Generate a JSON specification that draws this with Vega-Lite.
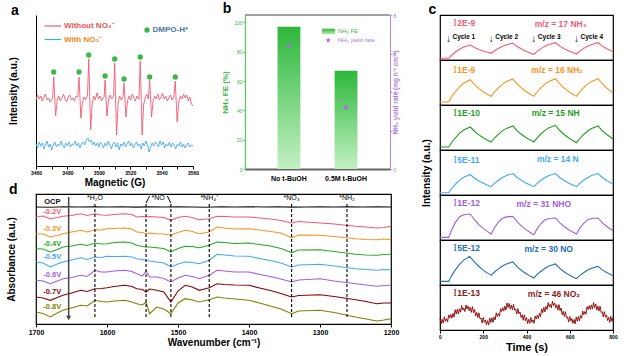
{
"$schema": "https://vega.github.io/schema/vega-lite/v6.json",
"background": "white",
"padding": {"left": 5, "top": 2, "right": 0, "bottom": 0},
"config": {
  "font": "Liberation Sans",
  "view": {"stroke": null},
  "axis": {"grid": false, "domainColor": "black", "tickColor": "black", "labelColor": "black", "titleColor": "black", "domainWidth": 1, "tickWidth": 1, "labelOverlap": false},
  "title": {"fontSize": 14, "fontWeight": "bold", "anchor": "start", "offset": -3, "frame": "bounds", "color": "black"}
},
"datasets": {
  "epr": [
{"G":3460,"I":66,"s":"Without"},{"G":3461,"I":71,"s":"Without"},{"G":3462,"I":67,"s":"Without"},{"G":3463,"I":70,"s":"Without"},{"G":3464,"I":65,"s":"Without"},{"G":3465,"I":69,"s":"Without"},{"G":3466,"I":72,"s":"Without"},{"G":3467,"I":66,"s":"Without"},{"G":3468,"I":68,"s":"Without"},{"G":3469,"I":64,"s":"Without"},{"G":3470,"I":67,"s":"Without"},{"G":3470.6,"I":68,"s":"Without"},{"G":3471.3,"I":89,"s":"Without"},{"G":3472.5,"I":50,"s":"Without"},{"G":3473.5,"I":66,"s":"Without"},{"G":3474.5,"I":70,"s":"Without"},{"G":3475.5,"I":65,"s":"Without"},{"G":3476.5,"I":68,"s":"Without"},{"G":3477.5,"I":72,"s":"Without"},{"G":3478.5,"I":67,"s":"Without"},{"G":3479.5,"I":64,"s":"Without"},{"G":3480.5,"I":69,"s":"Without"},{"G":3481.5,"I":71,"s":"Without"},{"G":3482.5,"I":66,"s":"Without"},{"G":3483.5,"I":68,"s":"Without"},{"G":3484.5,"I":65,"s":"Without"},{"G":3485.5,"I":70,"s":"Without"},{"G":3486.6,"I":69,"s":"Without"},{"G":3487.4,"I":89,"s":"Without"},{"G":3488.6,"I":48,"s":"Without"},{"G":3489.6,"I":64,"s":"Without"},{"G":3490.5,"I":69,"s":"Without"},{"G":3491.5,"I":66,"s":"Without"},{"G":3492.8,"I":71,"s":"Without"},{"G":3493.6,"I":107,"s":"Without"},{"G":3494.8,"I":36,"s":"Without"},{"G":3495.8,"I":63,"s":"Without"},{"G":3496.8,"I":70,"s":"Without"},{"G":3497.8,"I":66,"s":"Without"},{"G":3498.8,"I":73,"s":"Without"},{"G":3499.8,"I":67,"s":"Without"},{"G":3500.8,"I":70,"s":"Without"},{"G":3501.8,"I":65,"s":"Without"},{"G":3502.6,"I":68,"s":"Without"},{"G":3503.4,"I":69,"s":"Without"},{"G":3504,"I":86,"s":"Without"},{"G":3505.2,"I":50,"s":"Without"},{"G":3506.2,"I":66,"s":"Without"},{"G":3507.2,"I":71,"s":"Without"},{"G":3508.2,"I":67,"s":"Without"},{"G":3509.4,"I":70,"s":"Without"},{"G":3510.1,"I":103,"s":"Without"},{"G":3511.3,"I":31,"s":"Without"},{"G":3512.3,"I":63,"s":"Without"},{"G":3513.3,"I":70,"s":"Without"},{"G":3514.3,"I":66,"s":"Without"},{"G":3515.4,"I":69,"s":"Without"},{"G":3516.1,"I":83,"s":"Without"},{"G":3517.3,"I":49,"s":"Without"},{"G":3518.3,"I":65,"s":"Without"},{"G":3519.3,"I":70,"s":"Without"},{"G":3520.3,"I":66,"s":"Without"},{"G":3521.3,"I":72,"s":"Without"},{"G":3522.3,"I":68,"s":"Without"},{"G":3523.3,"I":65,"s":"Without"},{"G":3524.3,"I":70,"s":"Without"},{"G":3525.6,"I":67,"s":"Without"},{"G":3526.4,"I":105,"s":"Without"},{"G":3527.6,"I":31,"s":"Without"},{"G":3528.6,"I":62,"s":"Without"},{"G":3529.6,"I":68,"s":"Without"},{"G":3530.6,"I":72,"s":"Without"},{"G":3531.6,"I":67,"s":"Without"},{"G":3532.4,"I":86,"s":"Without"},{"G":3533.6,"I":49,"s":"Without"},{"G":3534.6,"I":65,"s":"Without"},{"G":3535.6,"I":70,"s":"Without"},{"G":3536.6,"I":67,"s":"Without"},{"G":3537.6,"I":72,"s":"Without"},{"G":3538.6,"I":66,"s":"Without"},{"G":3539.6,"I":69,"s":"Without"},{"G":3540.6,"I":73,"s":"Without"},{"G":3541.6,"I":67,"s":"Without"},{"G":3542.6,"I":70,"s":"Without"},{"G":3543.6,"I":65,"s":"Without"},{"G":3544.6,"I":68,"s":"Without"},{"G":3545.6,"I":71,"s":"Without"},{"G":3546.6,"I":66,"s":"Without"},{"G":3547.8,"I":69,"s":"Without"},{"G":3548.7,"I":85,"s":"Without"},{"G":3549.9,"I":44,"s":"Without"},{"G":3550.9,"I":64,"s":"Without"},{"G":3552,"I":70,"s":"Without"},{"G":3553,"I":67,"s":"Without"},{"G":3554,"I":72,"s":"Without"},{"G":3555,"I":68,"s":"Without"},{"G":3556,"I":71,"s":"Without"},{"G":3557,"I":65,"s":"Without"},{"G":3558,"I":69,"s":"Without"},{"G":3559,"I":62,"s":"Without"},{"G":3560,"I":60,"s":"Without"},
{"G":3460,"I":22,"s":"With"},{"G":3461,"I":18,"s":"With"},{"G":3462,"I":24,"s":"With"},{"G":3463,"I":20,"s":"With"},{"G":3464,"I":23,"s":"With"},{"G":3465,"I":17,"s":"With"},{"G":3466,"I":21,"s":"With"},{"G":3467,"I":25,"s":"With"},{"G":3468,"I":19,"s":"With"},{"G":3469,"I":22,"s":"With"},{"G":3470,"I":16,"s":"With"},{"G":3471,"I":21,"s":"With"},{"G":3472,"I":24,"s":"With"},{"G":3473,"I":19,"s":"With"},{"G":3474,"I":22,"s":"With"},{"G":3475,"I":20,"s":"With"},{"G":3476,"I":25,"s":"With"},{"G":3477,"I":21,"s":"With"},{"G":3478,"I":18,"s":"With"},{"G":3479,"I":23,"s":"With"},{"G":3480,"I":20,"s":"With"},{"G":3481,"I":24,"s":"With"},{"G":3482,"I":19,"s":"With"},{"G":3483,"I":22,"s":"With"},{"G":3484,"I":21,"s":"With"},{"G":3485,"I":25,"s":"With"},{"G":3486,"I":20,"s":"With"},{"G":3487,"I":23,"s":"With"},{"G":3488,"I":18,"s":"With"},{"G":3489,"I":22,"s":"With"},{"G":3490,"I":24,"s":"With"},{"G":3491,"I":21,"s":"With"},{"G":3492,"I":26,"s":"With"},{"G":3493,"I":28,"s":"With"},{"G":3494,"I":24,"s":"With"},{"G":3495,"I":26,"s":"With"},{"G":3496,"I":21,"s":"With"},{"G":3497,"I":24,"s":"With"},{"G":3498,"I":20,"s":"With"},{"G":3499,"I":23,"s":"With"},{"G":3500,"I":19,"s":"With"},{"G":3501,"I":24,"s":"With"},{"G":3502,"I":22,"s":"With"},{"G":3503,"I":18,"s":"With"},{"G":3504,"I":23,"s":"With"},{"G":3505,"I":20,"s":"With"},{"G":3506,"I":25,"s":"With"},{"G":3507,"I":21,"s":"With"},{"G":3508,"I":17,"s":"With"},{"G":3509,"I":22,"s":"With"},{"G":3510,"I":24,"s":"With"},{"G":3511,"I":19,"s":"With"},{"G":3512,"I":23,"s":"With"},{"G":3513,"I":16,"s":"With"},{"G":3514,"I":22,"s":"With"},{"G":3515,"I":20,"s":"With"},{"G":3516,"I":24,"s":"With"},{"G":3517,"I":19,"s":"With"},{"G":3518,"I":22,"s":"With"},{"G":3519,"I":25,"s":"With"},{"G":3520,"I":20,"s":"With"},{"G":3521,"I":23,"s":"With"},{"G":3522,"I":18,"s":"With"},{"G":3523,"I":21,"s":"With"},{"G":3524,"I":24,"s":"With"},{"G":3525,"I":20,"s":"With"},{"G":3526,"I":22,"s":"With"},{"G":3527,"I":17,"s":"With"},{"G":3528,"I":23,"s":"With"},{"G":3529,"I":20,"s":"With"},{"G":3530,"I":25,"s":"With"},{"G":3531,"I":21,"s":"With"},{"G":3532,"I":14,"s":"With"},{"G":3533,"I":19,"s":"With"},{"G":3534,"I":23,"s":"With"},{"G":3535,"I":20,"s":"With"},{"G":3536,"I":24,"s":"With"},{"G":3537,"I":22,"s":"With"},{"G":3538,"I":19,"s":"With"},{"G":3539,"I":25,"s":"With"},{"G":3540,"I":21,"s":"With"},{"G":3541,"I":24,"s":"With"},{"G":3542,"I":18,"s":"With"},{"G":3543,"I":22,"s":"With"},{"G":3544,"I":20,"s":"With"},{"G":3545,"I":24,"s":"With"},{"G":3546,"I":19,"s":"With"},{"G":3547,"I":23,"s":"With"},{"G":3548,"I":21,"s":"With"},{"G":3549,"I":17,"s":"With"},{"G":3550,"I":22,"s":"With"},{"G":3551,"I":20,"s":"With"},{"G":3552,"I":24,"s":"With"},{"G":3553,"I":19,"s":"With"},{"G":3554,"I":22,"s":"With"},{"G":3555,"I":18,"s":"With"},{"G":3556,"I":21,"s":"With"},{"G":3557,"I":23,"s":"With"},{"G":3558,"I":19,"s":"With"},{"G":3559,"I":21,"s":"With"},{"G":3560,"I":20,"s":"With"}
  ],
  "dmpo": [{"G":3471.3,"I":94},{"G":3487.4,"I":94},{"G":3493.6,"I":111},{"G":3504,"I":90},{"G":3510.1,"I":107},{"G":3516.1,"I":87},{"G":3526.4,"I":109},{"G":3532.4,"I":89},{"G":3548.7,"I":89}],
  "ms": [
{"m":17,"t":0,"v":1.7},{"m":17,"t":20,"v":1.8},{"m":17,"t":40,"v":1.7},{"m":17,"t":55,"v":5.0},{"m":17,"t":70,"v":7.7},{"m":17,"t":90,"v":10.7},{"m":17,"t":110,"v":13.0},{"m":17,"t":140,"v":15.0},{"m":17,"t":160,"v":12.5},{"m":17,"t":180,"v":10.6},{"m":17,"t":200,"v":9.0},{"m":17,"t":220,"v":7.7},{"m":17,"t":237,"v":6.7},{"m":17,"t":252,"v":9.2},{"m":17,"t":267,"v":11.2},{"m":17,"t":287,"v":13.5},{"m":17,"t":307,"v":15.2},{"m":17,"t":337,"v":16.7},{"m":17,"t":357,"v":13.4},{"m":17,"t":377,"v":10.9},{"m":17,"t":397,"v":8.8},{"m":17,"t":417,"v":7.0},{"m":17,"t":434,"v":5.7},{"m":17,"t":449,"v":8.6},{"m":17,"t":464,"v":10.9},{"m":17,"t":484,"v":13.6},{"m":17,"t":504,"v":15.6},{"m":17,"t":534,"v":17.3},{"m":17,"t":554,"v":13.9},{"m":17,"t":574,"v":11.3},{"m":17,"t":594,"v":9.2},{"m":17,"t":614,"v":7.4},{"m":17,"t":631,"v":6.0},{"m":17,"t":646,"v":8.8},{"m":17,"t":661,"v":11.1},{"m":17,"t":681,"v":13.7},{"m":17,"t":701,"v":15.6},{"m":17,"t":731,"v":17.3},{"m":17,"t":751,"v":13.9},{"m":17,"t":771,"v":11.3},{"m":17,"t":791,"v":9.2},{"m":17,"t":800,"v":8.4},
{"m":16,"t":0,"v":3},{"m":16,"t":20,"v":3},{"m":16,"t":40,"v":3},{"m":16,"t":55,"v":8.6},{"m":16,"t":70,"v":13.0},{"m":16,"t":90,"v":18.2},{"m":16,"t":110,"v":22.0},{"m":16,"t":140,"v":25.3},{"m":16,"t":160,"v":20.3},{"m":16,"t":180,"v":16.4},{"m":16,"t":200,"v":13.3},{"m":16,"t":220,"v":10.6},{"m":16,"t":237,"v":8.6},{"m":16,"t":252,"v":13.0},{"m":16,"t":267,"v":16.4},{"m":16,"t":287,"v":20.4},{"m":16,"t":307,"v":23.4},{"m":16,"t":337,"v":26.0},{"m":16,"t":357,"v":20.8},{"m":16,"t":377,"v":16.8},{"m":16,"t":397,"v":13.5},{"m":16,"t":417,"v":10.7},{"m":16,"t":434,"v":8.6},{"m":16,"t":449,"v":13.0},{"m":16,"t":464,"v":16.6},{"m":16,"t":484,"v":20.6},{"m":16,"t":504,"v":23.6},{"m":16,"t":534,"v":26.3},{"m":16,"t":554,"v":21.0},{"m":16,"t":574,"v":16.9},{"m":16,"t":594,"v":13.6},{"m":16,"t":614,"v":10.7},{"m":16,"t":631,"v":8.6},{"m":16,"t":646,"v":13.0},{"m":16,"t":661,"v":16.6},{"m":16,"t":681,"v":20.6},{"m":16,"t":701,"v":23.6},{"m":16,"t":731,"v":26.3},{"m":16,"t":751,"v":21.0},{"m":16,"t":771,"v":16.9},{"m":16,"t":791,"v":13.6},{"m":16,"t":800,"v":12.3},
{"m":15,"t":0,"v":3},{"m":15,"t":20,"v":3},{"m":15,"t":40,"v":3},{"m":15,"t":55,"v":8},{"m":15,"t":70,"v":12},{"m":15,"t":90,"v":16.6},{"m":15,"t":110,"v":20},{"m":15,"t":140,"v":23},{"m":15,"t":160,"v":18.5},{"m":15,"t":180,"v":15.1},{"m":15,"t":200,"v":12.2},{"m":15,"t":220,"v":9.8},{"m":15,"t":237,"v":8},{"m":15,"t":252,"v":12},{"m":15,"t":267,"v":15.2},{"m":15,"t":287,"v":18.9},{"m":15,"t":307,"v":21.6},{"m":15,"t":337,"v":24},{"m":15,"t":357,"v":19.2},{"m":15,"t":377,"v":15.5},{"m":15,"t":397,"v":12.5},{"m":15,"t":417,"v":9.9},{"m":15,"t":434,"v":8},{"m":15,"t":449,"v":12.2},{"m":15,"t":464,"v":15.5},{"m":15,"t":484,"v":19.4},{"m":15,"t":504,"v":22.2},{"m":15,"t":534,"v":24.7},{"m":15,"t":554,"v":19.5},{"m":15,"t":574,"v":15.5},{"m":15,"t":594,"v":12.2},{"m":15,"t":614,"v":9.4},{"m":15,"t":631,"v":7.3},{"m":15,"t":646,"v":11.5},{"m":15,"t":661,"v":14.8},{"m":15,"t":681,"v":18.7},{"m":15,"t":701,"v":21.5},{"m":15,"t":731,"v":24},{"m":15,"t":751,"v":19.2},{"m":15,"t":771,"v":15.5},{"m":15,"t":791,"v":12.5},{"m":15,"t":800,"v":11},
{"m":14,"t":0,"v":2.3},{"m":14,"t":20,"v":2.3},{"m":14,"t":40,"v":2.3},{"m":14,"t":55,"v":6.9},{"m":14,"t":70,"v":10.5},{"m":14,"t":90,"v":14.7},{"m":14,"t":110,"v":17.8},{"m":14,"t":140,"v":20.5},{"m":14,"t":160,"v":16.8},{"m":14,"t":180,"v":14.0},{"m":14,"t":200,"v":11.7},{"m":14,"t":220,"v":9.8},{"m":14,"t":237,"v":8.3},{"m":14,"t":252,"v":11.6},{"m":14,"t":267,"v":14.2},{"m":14,"t":287,"v":17.3},{"m":14,"t":307,"v":19.5},{"m":14,"t":337,"v":21.5},{"m":14,"t":357,"v":17.5},{"m":14,"t":377,"v":14.5},{"m":14,"t":397,"v":12.0},{"m":14,"t":417,"v":9.9},{"m":14,"t":434,"v":8.3},{"m":14,"t":449,"v":11.6},{"m":14,"t":464,"v":14.2},{"m":14,"t":484,"v":17.3},{"m":14,"t":504,"v":19.5},{"m":14,"t":534,"v":21.5},{"m":14,"t":554,"v":17.5},{"m":14,"t":574,"v":14.5},{"m":14,"t":594,"v":12.0},{"m":14,"t":614,"v":9.9},{"m":14,"t":631,"v":8.3},{"m":14,"t":646,"v":11.6},{"m":14,"t":661,"v":14.2},{"m":14,"t":681,"v":17.3},{"m":14,"t":701,"v":19.5},{"m":14,"t":731,"v":21.5},{"m":14,"t":751,"v":17.5},{"m":14,"t":771,"v":14.5},{"m":14,"t":791,"v":12.0},{"m":14,"t":800,"v":11.0},
{"m":31,"t":0,"v":2.6},{"m":31,"t":20,"v":2.6},{"m":31,"t":40,"v":2.6},{"m":31,"t":55,"v":10.8},{"m":31,"t":70,"v":17.1},{"m":31,"t":90,"v":23.2},{"m":31,"t":110,"v":25.3},{"m":31,"t":140,"v":26},{"m":31,"t":160,"v":20},{"m":31,"t":180,"v":15.4},{"m":31,"t":200,"v":11.6},{"m":31,"t":220,"v":8.4},{"m":31,"t":237,"v":6},{"m":31,"t":252,"v":12.2},{"m":31,"t":267,"v":16.9},{"m":31,"t":287,"v":21.5},{"m":31,"t":307,"v":23.1},{"m":31,"t":337,"v":23.6},{"m":31,"t":357,"v":18.1},{"m":31,"t":377,"v":13.9},{"m":31,"t":397,"v":10.4},{"m":31,"t":417,"v":7.5},{"m":31,"t":434,"v":5.3},{"m":31,"t":449,"v":11.1},{"m":31,"t":464,"v":15.7},{"m":31,"t":484,"v":20},{"m":31,"t":504,"v":21.5},{"m":31,"t":534,"v":22},{"m":31,"t":554,"v":17.2},{"m":31,"t":574,"v":13.5},{"m":31,"t":594,"v":10.5},{"m":31,"t":614,"v":7.9},{"m":31,"t":631,"v":6},{"m":31,"t":646,"v":11.6},{"m":31,"t":661,"v":15.9},{"m":31,"t":681,"v":20.1},{"m":31,"t":701,"v":21.5},{"m":31,"t":731,"v":22},{"m":31,"t":751,"v":17.2},{"m":31,"t":771,"v":13.5},{"m":31,"t":791,"v":10.5},{"m":31,"t":800,"v":9.4},
{"m":30,"t":0,"v":3.6},{"m":30,"t":20,"v":3.6},{"m":30,"t":40,"v":3.6},{"m":30,"t":55,"v":9.9},{"m":30,"t":70,"v":14.9},{"m":30,"t":90,"v":20.6},{"m":30,"t":110,"v":24.9},{"m":30,"t":137,"v":28.6},{"m":30,"t":160,"v":22.9},{"m":30,"t":180,"v":18.5},{"m":30,"t":200,"v":14.9},{"m":30,"t":220,"v":11.9},{"m":30,"t":237,"v":9.6},{"m":30,"t":252,"v":13},{"m":30,"t":267,"v":15.6},{"m":30,"t":287,"v":18.7},{"m":30,"t":307,"v":21},{"m":30,"t":337,"v":23},{"m":30,"t":357,"v":18.2},{"m":30,"t":377,"v":14.5},{"m":30,"t":397,"v":11.5},{"m":30,"t":417,"v":8.9},{"m":30,"t":434,"v":7},{"m":30,"t":449,"v":10.5},{"m":30,"t":464,"v":13.3},{"m":30,"t":484,"v":16.5},{"m":30,"t":504,"v":18.9},{"m":30,"t":534,"v":21},{"m":30,"t":554,"v":16.6},{"m":30,"t":574,"v":13.2},{"m":30,"t":594,"v":10.4},{"m":30,"t":614,"v":8.1},{"m":30,"t":631,"v":6.3},{"m":30,"t":646,"v":9.4},{"m":30,"t":661,"v":11.8},{"m":30,"t":681,"v":14.7},{"m":30,"t":701,"v":16.8},{"m":30,"t":731,"v":18.6},{"m":30,"t":751,"v":15.1},{"m":30,"t":771,"v":12.5},{"m":30,"t":791,"v":10.2},{"m":30,"t":800,"v":9.2},
{"m":46,"t":0,"v":11.5},{"m":46,"t":5,"v":6.0},{"m":46,"t":10,"v":10.7},{"m":46,"t":15,"v":7.0},{"m":46,"t":20,"v":13.3},{"m":46,"t":25,"v":8.8},{"m":46,"t":30,"v":11.3},{"m":46,"t":35,"v":7.9},{"m":46,"t":40,"v":15.1},{"m":46,"t":45,"v":11.8},{"m":46,"t":50,"v":15.6},{"m":46,"t":55,"v":11.8},{"m":46,"t":60,"v":16.6},{"m":46,"t":65,"v":12.9},{"m":46,"t":70,"v":20.3},{"m":46,"t":75,"v":16.0},{"m":46,"t":80,"v":20.8},{"m":46,"t":85,"v":16.0},{"m":46,"t":90,"v":21.2},{"m":46,"t":95,"v":17.8},{"m":46,"t":100,"v":24.4},{"m":46,"t":105,"v":19.8},{"m":46,"t":110,"v":22.1},{"m":46,"t":115,"v":18.4},{"m":46,"t":120,"v":25.0},{"m":46,"t":125,"v":21.0},{"m":46,"t":130,"v":23.9},{"m":46,"t":135,"v":19.1},{"m":46,"t":140,"v":22.7},{"m":46,"t":145,"v":17.6},{"m":46,"t":150,"v":23.4},{"m":46,"t":155,"v":17.5},{"m":46,"t":160,"v":20.6},{"m":46,"t":165,"v":14.1},{"m":46,"t":170,"v":17.5},{"m":46,"t":175,"v":12.4},{"m":46,"t":180,"v":17.2},{"m":46,"t":185,"v":11.1},{"m":46,"t":190,"v":12.0},{"m":46,"t":195,"v":6.9},{"m":46,"t":200,"v":12.5},{"m":46,"t":205,"v":7.7},{"m":46,"t":210,"v":10.1},{"m":46,"t":215,"v":5.2},{"m":46,"t":220,"v":9.3},{"m":46,"t":225,"v":5.0},{"m":46,"t":230,"v":11.9},{"m":46,"t":235,"v":7.5},{"m":46,"t":240,"v":12.3},{"m":46,"t":245,"v":7.6},{"m":46,"t":250,"v":13.1},{"m":46,"t":255,"v":10.1},{"m":46,"t":260,"v":17.2},{"m":46,"t":265,"v":13.4},{"m":46,"t":270,"v":16.5},{"m":46,"t":275,"v":13.7},{"m":46,"t":280,"v":21.3},{"m":46,"t":285,"v":18.4},{"m":46,"t":290,"v":22.4},{"m":46,"t":295,"v":18.9},{"m":46,"t":300,"v":23.8},{"m":46,"t":305,"v":20.0},{"m":46,"t":310,"v":27.1},{"m":46,"t":315,"v":22.5},{"m":46,"t":320,"v":26.5},{"m":46,"t":325,"v":20.8},{"m":46,"t":330,"v":24.9},{"m":46,"t":335,"v":20.4},{"m":46,"t":340,"v":25.7},{"m":46,"t":345,"v":19.9},{"m":46,"t":350,"v":21.0},{"m":46,"t":355,"v":16.0},{"m":46,"t":360,"v":21.4},{"m":46,"t":365,"v":16.3},{"m":46,"t":370,"v":18.1},{"m":46,"t":375,"v":12.5},{"m":46,"t":380,"v":15.3},{"m":46,"t":385,"v":9.7},{"m":46,"t":390,"v":15.2},{"m":46,"t":395,"v":9.3},{"m":46,"t":400,"v":12.5},{"m":46,"t":405,"v":6.5},{"m":46,"t":410,"v":10.7},{"m":46,"t":415,"v":6.5},{"m":46,"t":420,"v":12.5},{"m":46,"t":425,"v":7.7},{"m":46,"t":430,"v":10.1},{"m":46,"t":435,"v":6.7},{"m":46,"t":440,"v":14.0},{"m":46,"t":445,"v":10.9},{"m":46,"t":450,"v":14.9},{"m":46,"t":455,"v":11.5},{"m":46,"t":460,"v":16.7},{"m":46,"t":465,"v":13.4},{"m":46,"t":470,"v":21.1},{"m":46,"t":475,"v":17.3},{"m":46,"t":480,"v":22.5},{"m":46,"t":485,"v":18.1},{"m":46,"t":490,"v":23.6},{"m":46,"t":495,"v":20.6},{"m":46,"t":500,"v":27.4},{"m":46,"t":505,"v":23.1},{"m":46,"t":510,"v":25.7},{"m":46,"t":515,"v":22.1},{"m":46,"t":520,"v":28.7},{"m":46,"t":525,"v":24.5},{"m":46,"t":530,"v":27.1},{"m":46,"t":535,"v":22.0},{"m":46,"t":540,"v":25.3},{"m":46,"t":545,"v":19.9},{"m":46,"t":550,"v":25.4},{"m":46,"t":555,"v":19.3},{"m":46,"t":560,"v":22.1},{"m":46,"t":565,"v":15.4},{"m":46,"t":570,"v":18.7},{"m":46,"t":575,"v":13.5},{"m":46,"t":580,"v":18.3},{"m":46,"t":585,"v":12.1},{"m":46,"t":590,"v":13.0},{"m":46,"t":595,"v":8.0},{"m":46,"t":600,"v":13.6},{"m":46,"t":605,"v":8.9},{"m":46,"t":610,"v":11.4},{"m":46,"t":615,"v":6.6},{"m":46,"t":620,"v":10.5},{"m":46,"t":625,"v":6.2},{"m":46,"t":630,"v":13.1},{"m":46,"t":635,"v":8.7},{"m":46,"t":640,"v":13.5},{"m":46,"t":645,"v":9.0},{"m":46,"t":650,"v":14.6},{"m":46,"t":655,"v":11.8},{"m":46,"t":660,"v":19.0},{"m":46,"t":665,"v":15.3},{"m":46,"t":670,"v":18.5},{"m":46,"t":675,"v":15.8},{"m":46,"t":680,"v":23.4},{"m":46,"t":685,"v":20.5},{"m":46,"t":690,"v":24.4},{"m":46,"t":695,"v":20.6},{"m":46,"t":700,"v":25.1},{"m":46,"t":705,"v":20.9},{"m":46,"t":710,"v":27.5},{"m":46,"t":715,"v":22.4},{"m":46,"t":720,"v":26.1},{"m":46,"t":725,"v":20.0},{"m":46,"t":730,"v":23.8},{"m":46,"t":735,"v":18.9},{"m":46,"t":740,"v":23.8},{"m":46,"t":745,"v":17.6},{"m":46,"t":750,"v":18.3},{"m":46,"t":755,"v":13.1},{"m":46,"t":760,"v":18.3},{"m":46,"t":765,"v":13.1},{"m":46,"t":770,"v":15.0},{"m":46,"t":775,"v":9.5},{"m":46,"t":780,"v":12.7},{"m":46,"t":785,"v":7.6},{"m":46,"t":790,"v":13.7},{"m":46,"t":795,"v":8.5},{"m":46,"t":800,"v":12.5}
  ],
  "ftir": [
{"V":"OCP","w":1700,"A":117},{"V":"OCP","w":1680,"A":116.8},{"V":"OCP","w":1660,"A":117.2},{"V":"OCP","w":1640,"A":117},{"V":"OCP","w":1620,"A":117.3},{"V":"OCP","w":1600,"A":117},{"V":"OCP","w":1580,"A":117.2},{"V":"OCP","w":1560,"A":116.9},{"V":"OCP","w":1540,"A":117.1},{"V":"OCP","w":1520,"A":117},{"V":"OCP","w":1500,"A":117.3},{"V":"OCP","w":1480,"A":117},{"V":"OCP","w":1460,"A":116.8},{"V":"OCP","w":1440,"A":117.2},{"V":"OCP","w":1420,"A":117},{"V":"OCP","w":1400,"A":117.3},{"V":"OCP","w":1380,"A":117},{"V":"OCP","w":1360,"A":117.2},{"V":"OCP","w":1340,"A":116.9},{"V":"OCP","w":1320,"A":117},{"V":"OCP","w":1300,"A":117.2},{"V":"OCP","w":1280,"A":117},{"V":"OCP","w":1260,"A":117.1},{"V":"OCP","w":1240,"A":117},{"V":"OCP","w":1220,"A":117.2},{"V":"OCP","w":1200,"A":117},
{"V":"-0.2V","w":1700,"A":107},{"V":"-0.2V","w":1690,"A":108},{"V":"-0.2V","w":1680,"A":105.3},{"V":"-0.2V","w":1670,"A":106.5},{"V":"-0.2V","w":1662,"A":107.7},{"V":"-0.2V","w":1650,"A":108.5},{"V":"-0.2V","w":1637,"A":110.3},{"V":"-0.2V","w":1628,"A":108.5},{"V":"-0.2V","w":1617,"A":110.3},{"V":"-0.2V","w":1608,"A":109},{"V":"-0.2V","w":1600,"A":108.7},{"V":"-0.2V","w":1590,"A":109.5},{"V":"-0.2V","w":1575,"A":110.3},{"V":"-0.2V","w":1565,"A":109.5},{"V":"-0.2V","w":1558,"A":107},{"V":"-0.2V","w":1550,"A":107.5},{"V":"-0.2V","w":1545,"A":107},{"V":"-0.2V","w":1540,"A":107.5},{"V":"-0.2V","w":1530,"A":107},{"V":"-0.2V","w":1520,"A":106.5},{"V":"-0.2V","w":1510,"A":103.7},{"V":"-0.2V","w":1500,"A":106.5},{"V":"-0.2V","w":1490,"A":107.7},{"V":"-0.2V","w":1480,"A":106.5},{"V":"-0.2V","w":1470,"A":104.3},{"V":"-0.2V","w":1456,"A":105.3},{"V":"-0.2V","w":1445,"A":107.7},{"V":"-0.2V","w":1435,"A":107.5},{"V":"-0.2V","w":1420,"A":107},{"V":"-0.2V","w":1400,"A":107},{"V":"-0.2V","w":1385,"A":106},{"V":"-0.2V","w":1370,"A":105},{"V":"-0.2V","w":1355,"A":103.5},{"V":"-0.2V","w":1340,"A":101},{"V":"-0.2V","w":1330,"A":102.5},{"V":"-0.2V","w":1300,"A":101},{"V":"-0.2V","w":1280,"A":100},{"V":"-0.2V","w":1250,"A":97.7},{"V":"-0.2V","w":1235,"A":97},{"V":"-0.2V","w":1220,"A":96},{"V":"-0.2V","w":1210,"A":96.5},{"V":"-0.2V","w":1200,"A":97.7},
{"V":"-0.3V","w":1700,"A":90.3},{"V":"-0.3V","w":1690,"A":90},{"V":"-0.3V","w":1680,"A":87},{"V":"-0.3V","w":1670,"A":88.5},{"V":"-0.3V","w":1662,"A":90.3},{"V":"-0.3V","w":1650,"A":92},{"V":"-0.3V","w":1637,"A":93.7},{"V":"-0.3V","w":1628,"A":92},{"V":"-0.3V","w":1617,"A":94.3},{"V":"-0.3V","w":1608,"A":94},{"V":"-0.3V","w":1600,"A":95.3},{"V":"-0.3V","w":1590,"A":95.5},{"V":"-0.3V","w":1575,"A":96},{"V":"-0.3V","w":1565,"A":95},{"V":"-0.3V","w":1558,"A":92},{"V":"-0.3V","w":1550,"A":91.5},{"V":"-0.3V","w":1545,"A":90.3},{"V":"-0.3V","w":1540,"A":91},{"V":"-0.3V","w":1530,"A":90.3},{"V":"-0.3V","w":1520,"A":90},{"V":"-0.3V","w":1510,"A":88.7},{"V":"-0.3V","w":1500,"A":91.5},{"V":"-0.3V","w":1490,"A":93.7},{"V":"-0.3V","w":1480,"A":92.5},{"V":"-0.3V","w":1470,"A":90.3},{"V":"-0.3V","w":1456,"A":92},{"V":"-0.3V","w":1445,"A":97},{"V":"-0.3V","w":1435,"A":96},{"V":"-0.3V","w":1420,"A":95},{"V":"-0.3V","w":1400,"A":95.3},{"V":"-0.3V","w":1385,"A":94},{"V":"-0.3V","w":1370,"A":92.5},{"V":"-0.3V","w":1355,"A":91},{"V":"-0.3V","w":1340,"A":86.3},{"V":"-0.3V","w":1330,"A":89},{"V":"-0.3V","w":1300,"A":88.7},{"V":"-0.3V","w":1280,"A":87.5},{"V":"-0.3V","w":1250,"A":85.3},{"V":"-0.3V","w":1235,"A":84.5},{"V":"-0.3V","w":1220,"A":84.3},{"V":"-0.3V","w":1210,"A":85},{"V":"-0.3V","w":1200,"A":84.3},
{"V":"-0.4V","w":1700,"A":75.3},{"V":"-0.4V","w":1690,"A":75},{"V":"-0.4V","w":1680,"A":72},{"V":"-0.4V","w":1670,"A":74.5},{"V":"-0.4V","w":1662,"A":77},{"V":"-0.4V","w":1650,"A":78},{"V":"-0.4V","w":1637,"A":79.7},{"V":"-0.4V","w":1628,"A":78.5},{"V":"-0.4V","w":1617,"A":81},{"V":"-0.4V","w":1608,"A":80},{"V":"-0.4V","w":1600,"A":80.3},{"V":"-0.4V","w":1590,"A":81.5},{"V":"-0.4V","w":1575,"A":82},{"V":"-0.4V","w":1565,"A":81},{"V":"-0.4V","w":1558,"A":78.7},{"V":"-0.4V","w":1550,"A":77.5},{"V":"-0.4V","w":1545,"A":77},{"V":"-0.4V","w":1540,"A":77},{"V":"-0.4V","w":1530,"A":76.3},{"V":"-0.4V","w":1520,"A":75.5},{"V":"-0.4V","w":1510,"A":72},{"V":"-0.4V","w":1500,"A":75.5},{"V":"-0.4V","w":1490,"A":77.7},{"V":"-0.4V","w":1480,"A":77.5},{"V":"-0.4V","w":1470,"A":76.3},{"V":"-0.4V","w":1456,"A":78.7},{"V":"-0.4V","w":1445,"A":82},{"V":"-0.4V","w":1435,"A":81.5},{"V":"-0.4V","w":1420,"A":80.5},{"V":"-0.4V","w":1400,"A":81},{"V":"-0.4V","w":1385,"A":79.5},{"V":"-0.4V","w":1370,"A":78},{"V":"-0.4V","w":1355,"A":75.5},{"V":"-0.4V","w":1340,"A":71.3},{"V":"-0.4V","w":1330,"A":74},{"V":"-0.4V","w":1300,"A":74.3},{"V":"-0.4V","w":1280,"A":72.5},{"V":"-0.4V","w":1250,"A":69.7},{"V":"-0.4V","w":1235,"A":69},{"V":"-0.4V","w":1220,"A":68.7},{"V":"-0.4V","w":1210,"A":69.5},{"V":"-0.4V","w":1200,"A":69.7},
{"V":"-0.5V","w":1700,"A":62},{"V":"-0.5V","w":1690,"A":61},{"V":"-0.5V","w":1680,"A":57},{"V":"-0.5V","w":1670,"A":60},{"V":"-0.5V","w":1662,"A":62},{"V":"-0.5V","w":1650,"A":64},{"V":"-0.5V","w":1637,"A":66.3},{"V":"-0.5V","w":1628,"A":64.5},{"V":"-0.5V","w":1617,"A":67},{"V":"-0.5V","w":1608,"A":66.5},{"V":"-0.5V","w":1600,"A":67.7},{"V":"-0.5V","w":1590,"A":67.5},{"V":"-0.5V","w":1575,"A":67.7},{"V":"-0.5V","w":1565,"A":67},{"V":"-0.5V","w":1558,"A":65.3},{"V":"-0.5V","w":1550,"A":64.5},{"V":"-0.5V","w":1545,"A":63.7},{"V":"-0.5V","w":1540,"A":63},{"V":"-0.5V","w":1530,"A":62},{"V":"-0.5V","w":1520,"A":61},{"V":"-0.5V","w":1510,"A":57},{"V":"-0.5V","w":1500,"A":60},{"V":"-0.5V","w":1490,"A":62},{"V":"-0.5V","w":1480,"A":61.5},{"V":"-0.5V","w":1470,"A":60.3},{"V":"-0.5V","w":1456,"A":63.7},{"V":"-0.5V","w":1445,"A":69.7},{"V":"-0.5V","w":1435,"A":69},{"V":"-0.5V","w":1420,"A":68},{"V":"-0.5V","w":1400,"A":67.7},{"V":"-0.5V","w":1385,"A":65.5},{"V":"-0.5V","w":1370,"A":63.5},{"V":"-0.5V","w":1355,"A":61},{"V":"-0.5V","w":1340,"A":57},{"V":"-0.5V","w":1330,"A":59},{"V":"-0.5V","w":1300,"A":59.7},{"V":"-0.5V","w":1280,"A":58},{"V":"-0.5V","w":1250,"A":55.3},{"V":"-0.5V","w":1235,"A":54.5},{"V":"-0.5V","w":1220,"A":53.7},{"V":"-0.5V","w":1210,"A":54.5},{"V":"-0.5V","w":1200,"A":54.3},
{"V":"-0.6V","w":1700,"A":43.7},{"V":"-0.6V","w":1690,"A":43},{"V":"-0.6V","w":1680,"A":40.3},{"V":"-0.6V","w":1670,"A":43},{"V":"-0.6V","w":1662,"A":45.3},{"V":"-0.6V","w":1650,"A":46.5},{"V":"-0.6V","w":1637,"A":48.7},{"V":"-0.6V","w":1628,"A":47.5},{"V":"-0.6V","w":1617,"A":53.7},{"V":"-0.6V","w":1608,"A":52},{"V":"-0.6V","w":1600,"A":52},{"V":"-0.6V","w":1590,"A":53},{"V":"-0.6V","w":1575,"A":53.7},{"V":"-0.6V","w":1565,"A":52.5},{"V":"-0.6V","w":1558,"A":50.3},{"V":"-0.6V","w":1550,"A":48},{"V":"-0.6V","w":1545,"A":53},{"V":"-0.6V","w":1540,"A":47},{"V":"-0.6V","w":1530,"A":47},{"V":"-0.6V","w":1520,"A":45.5},{"V":"-0.6V","w":1510,"A":42},{"V":"-0.6V","w":1500,"A":46},{"V":"-0.6V","w":1490,"A":48.7},{"V":"-0.6V","w":1480,"A":47.5},{"V":"-0.6V","w":1470,"A":45.3},{"V":"-0.6V","w":1456,"A":48.7},{"V":"-0.6V","w":1445,"A":53.7},{"V":"-0.6V","w":1435,"A":53},{"V":"-0.6V","w":1420,"A":52},{"V":"-0.6V","w":1400,"A":52},{"V":"-0.6V","w":1385,"A":49.5},{"V":"-0.6V","w":1370,"A":47.5},{"V":"-0.6V","w":1355,"A":45},{"V":"-0.6V","w":1340,"A":42},{"V":"-0.6V","w":1330,"A":44},{"V":"-0.6V","w":1300,"A":45.3},{"V":"-0.6V","w":1280,"A":43},{"V":"-0.6V","w":1250,"A":40.3},{"V":"-0.6V","w":1235,"A":39},{"V":"-0.6V","w":1220,"A":37.7},{"V":"-0.6V","w":1210,"A":38.5},{"V":"-0.6V","w":1200,"A":38.7},
{"V":"-0.7V","w":1700,"A":27},{"V":"-0.7V","w":1690,"A":26},{"V":"-0.7V","w":1680,"A":23.7},{"V":"-0.7V","w":1670,"A":26.5},{"V":"-0.7V","w":1662,"A":28.7},{"V":"-0.7V","w":1650,"A":31},{"V":"-0.7V","w":1637,"A":33.7},{"V":"-0.7V","w":1628,"A":32.5},{"V":"-0.7V","w":1617,"A":35.3},{"V":"-0.7V","w":1608,"A":35.5},{"V":"-0.7V","w":1600,"A":36.3},{"V":"-0.7V","w":1590,"A":37.5},{"V":"-0.7V","w":1575,"A":38.7},{"V":"-0.7V","w":1565,"A":37.5},{"V":"-0.7V","w":1558,"A":35.3},{"V":"-0.7V","w":1550,"A":34.5},{"V":"-0.7V","w":1545,"A":32},{"V":"-0.7V","w":1540,"A":35},{"V":"-0.7V","w":1530,"A":33.7},{"V":"-0.7V","w":1520,"A":32},{"V":"-0.7V","w":1510,"A":22},{"V":"-0.7V","w":1500,"A":33},{"V":"-0.7V","w":1490,"A":38.7},{"V":"-0.7V","w":1480,"A":37},{"V":"-0.7V","w":1470,"A":33.7},{"V":"-0.7V","w":1456,"A":36.3},{"V":"-0.7V","w":1445,"A":40.3},{"V":"-0.7V","w":1435,"A":39.5},{"V":"-0.7V","w":1420,"A":39},{"V":"-0.7V","w":1400,"A":38.7},{"V":"-0.7V","w":1385,"A":36},{"V":"-0.7V","w":1370,"A":33.5},{"V":"-0.7V","w":1355,"A":30.5},{"V":"-0.7V","w":1340,"A":27},{"V":"-0.7V","w":1330,"A":28.5},{"V":"-0.7V","w":1300,"A":29.3},{"V":"-0.7V","w":1280,"A":27.5},{"V":"-0.7V","w":1250,"A":24.3},{"V":"-0.7V","w":1235,"A":22.5},{"V":"-0.7V","w":1220,"A":20.3},{"V":"-0.7V","w":1210,"A":21},{"V":"-0.7V","w":1200,"A":21},
{"V":"-0.8V","w":1700,"A":12},{"V":"-0.8V","w":1690,"A":10.5},{"V":"-0.8V","w":1680,"A":7},{"V":"-0.8V","w":1670,"A":11},{"V":"-0.8V","w":1662,"A":13.7},{"V":"-0.8V","w":1650,"A":16},{"V":"-0.8V","w":1637,"A":18.7},{"V":"-0.8V","w":1628,"A":18},{"V":"-0.8V","w":1617,"A":23.7},{"V":"-0.8V","w":1608,"A":22.5},{"V":"-0.8V","w":1600,"A":22},{"V":"-0.8V","w":1590,"A":23},{"V":"-0.8V","w":1575,"A":23.7},{"V":"-0.8V","w":1565,"A":22},{"V":"-0.8V","w":1558,"A":20.3},{"V":"-0.8V","w":1550,"A":19},{"V":"-0.8V","w":1545,"A":22},{"V":"-0.8V","w":1540,"A":10.3},{"V":"-0.8V","w":1530,"A":17},{"V":"-0.8V","w":1520,"A":15},{"V":"-0.8V","w":1510,"A":10.3},{"V":"-0.8V","w":1500,"A":21},{"V":"-0.8V","w":1490,"A":25.3},{"V":"-0.8V","w":1480,"A":24},{"V":"-0.8V","w":1470,"A":22},{"V":"-0.8V","w":1456,"A":24.3},{"V":"-0.8V","w":1445,"A":27},{"V":"-0.8V","w":1435,"A":26},{"V":"-0.8V","w":1420,"A":25},{"V":"-0.8V","w":1400,"A":23.7},{"V":"-0.8V","w":1385,"A":21},{"V":"-0.8V","w":1370,"A":18},{"V":"-0.8V","w":1355,"A":15},{"V":"-0.8V","w":1340,"A":10.3},{"V":"-0.8V","w":1330,"A":13},{"V":"-0.8V","w":1300,"A":13.7},{"V":"-0.8V","w":1280,"A":11.5},{"V":"-0.8V","w":1250,"A":7},{"V":"-0.8V","w":1235,"A":5},{"V":"-0.8V","w":1220,"A":3},{"V":"-0.8V","w":1210,"A":4},{"V":"-0.8V","w":1200,"A":5.3}
  ]
},
"hconcat": [
 {"vconcat": [
   {"hconcat": [
     {
      "width": 157, "height": 151,
      "title": {"text": "a", "dx": 3},
      "data": {"values": [{}]},
      "encoding": {
        "x": {"field": "G", "type": "quantitative", "scale": {"domain": [3460, 3560], "nice": false, "zero": false},
              "axis": {"values": [3460, 3470, 3480, 3490, 3500, 3510, 3520, 3530, 3540, 3550, 3560], "format": "d", "labelExpr": "datum.value % 20 == 0 ? datum.label : ''", "labelFontSize": 5, "labelFontWeight": "bold", "tickSize": 3, "labelPadding": 1, "labelFlush": false, "labelOverlap": false, "labelSeparation": -60, "title": "Magnetic (G)", "titleFontSize": 10, "titleFontWeight": "bold", "titlePadding": 2}},
        "y": {"field": "I", "type": "quantitative", "scale": {"domain": [0, 151], "nice": false},
              "axis": {"title": "Intensity (a.u.)", "labels": false, "ticks": false, "titleFontSize": 10, "titleFontWeight": "bold", "titlePadding": 18}}
      },
      "layer": [
       {"data": {"name": "epr"}, "transform": [{"filter": "datum.s == 'Without'"}], "mark": {"type": "line", "strokeWidth": 0.9, "color": "#f25a73"}},
       {"data": {"name": "epr"}, "transform": [{"filter": "datum.s == 'With'"}], "mark": {"type": "line", "strokeWidth": 0.9, "color": "#3fa9f5"}},
       {"data": {"name": "dmpo"}, "mark": {"type": "point", "filled": true, "size": 28, "color": "#3cb84a", "opacity": 1}},
       {"data": {"values": [{"G": 3465.5, "G2": 3476, "I": 140, "k": "Without NO₃⁻"}, {"G": 3465.5, "G2": 3476, "I": 126.5, "k": "With NO₃⁻"}]},
        "mark": {"type": "rule", "strokeWidth": 1.2},
        "encoding": {"x2": {"field": "G2"}, "color": {"field": "k", "type": "nominal", "scale": {"domain": ["Without NO₃⁻", "With NO₃⁻", "DMPO-H*"], "range": ["#f25a73", "#3fa9f5", "#3cb84a"]}, "legend": null}}},
       {"data": {"values": [{"G": 3477.8, "I": 140, "k": "Without NO₃⁻"}, {"G": 3477.8, "I": 126.5, "k": "With NO₃⁻"}, {"G": 3534.2, "I": 136, "k": "DMPO-H*"}]},
        "mark": {"type": "text", "align": "left", "baseline": "middle", "fontSize": 8, "fontWeight": "bold"},
        "encoding": {"text": {"field": "k"}, "color": {"field": "k", "type": "nominal", "legend": null}}},
       {"data": {"values": [{"G": 3530.7, "I": 136}]}, "mark": {"type": "point", "filled": true, "size": 28, "color": "#3cb84a", "opacity": 1}}
      ],
      "resolve": {"scale": {"color": "independent"}}
     },
     {
      "width": 145, "height": 154,
      "title": {"text": "b", "dx": 1},
      "data": {"values": [{"cond": "No t-BuOH", "FE": 97, "Y": 6.4}, {"cond": "0.5M t-BuOH", "FE": 67, "Y": 3.2}]},
      "layer": [
       {"mark": {"type": "bar", "color": {"gradient": "linear", "x1": 0, "y1": 0, "x2": 0, "y2": 1, "stops": [{"offset": 0, "color": "#2db83a"}, {"offset": 1, "color": "#c2f0c2"}]}},
        "encoding": {
         "x": {"field": "cond", "type": "nominal", "sort": null, "scale": {"type": "band", "paddingInner": 0.6, "paddingOuter": 0.57},
               "axis": {"title": null, "labelFontSize": 7, "labelFontWeight": "bold", "ticks": false, "domainColor": "#666", "domainWidth": 2, "labelPadding": 5, "labelAngle": 0}},
         "y": {"field": "FE", "type": "quantitative", "scale": {"domain": [0, 105], "nice": false},
               "axis": {"orient": "left", "values": [0, 20, 40, 60, 80, 100], "title": "NH₃ FE (%)", "titleColor": "#3bb54a", "titleFontSize": 8, "titleFontWeight": "bold", "titlePadding": 4, "labelFontSize": 5, "labelColor": "#3bb54a", "domainColor": "#55cc55", "tickColor": "#55cc55", "tickSize": 2, "labelPadding": 1, "domainWidth": 1.2}}
        }},
       {"mark": {"type": "point", "shape": "M0,-1L0.2245,-0.309L0.951,-0.309L0.363,0.118L0.588,0.809L0,0.382L-0.588,0.809L-0.363,0.118L-0.951,-0.309L-0.2245,-0.309Z", "filled": true, "size": 45, "color": "#a66ee8", "opacity": 1},
        "encoding": {
         "x": {"field": "cond", "type": "nominal", "sort": null, "scale": {"type": "band", "paddingInner": 0.6, "paddingOuter": 0.57}, "axis": null},
         "y": {"field": "Y", "type": "quantitative", "scale": {"domain": [0, 8], "nice": false},
               "axis": {"orient": "right", "values": [0, 2, 4, 6, 8], "title": "NH₃ yield rate (mg h⁻¹ cm⁻²)", "titleAngle": 270, "titleColor": "#a77be0", "titleFontSize": 6.5, "titleFontWeight": "bold", "titlePadding": 3, "labelFontSize": 5, "labelColor": "#a77be0", "domainColor": "#b38ae8", "tickColor": "#b38ae8", "tickSize": 2, "labelPadding": 1}}
        }},
       {"data": {"values": [{}]},
        "layer": [
         {"mark": {"type": "rule", "color": "#444", "strokeWidth": 1.2},
          "encoding": {"x": {"datum": 0, "type": "quantitative", "scale": {"domain": [0, 1], "nice": false}, "axis": null}, "x2": {"datum": 1}, "y": {"datum": 1, "type": "quantitative", "scale": {"domain": [0, 1], "nice": false}, "axis": null}}},
         {"mark": {"type": "rect", "color": {"gradient": "linear", "x1": 0, "y1": 0, "x2": 0, "y2": 1, "stops": [{"offset": 0, "color": "#2db83a"}, {"offset": 1, "color": "#b5ecb5"}]}},
          "encoding": {"x": {"datum": 0.531, "type": "quantitative", "scale": {"domain": [0, 1], "nice": false}, "axis": null}, "x2": {"datum": 0.621}, "y": {"datum": 0.911, "type": "quantitative", "scale": {"domain": [0, 1], "nice": false}, "axis": null}, "y2": {"datum": 0.875}}},
         {"mark": {"type": "text", "text": "NH₃ FE", "align": "left", "baseline": "middle", "fontSize": 6, "color": "#3bb54a"},
          "encoding": {"x": {"datum": 0.639, "type": "quantitative", "scale": {"domain": [0, 1], "nice": false}, "axis": null}, "y": {"datum": 0.893, "type": "quantitative", "scale": {"domain": [0, 1], "nice": false}, "axis": null}}},
         {"mark": {"type": "point", "shape": "M0,-1L0.2245,-0.309L0.951,-0.309L0.363,0.118L0.588,0.809L0,0.382L-0.588,0.809L-0.363,0.118L-0.951,-0.309L-0.2245,-0.309Z", "filled": true, "size": 35, "color": "#a66ee8", "opacity": 1},
          "encoding": {"x": {"datum": 0.574, "type": "quantitative", "scale": {"domain": [0, 1], "nice": false}, "axis": null}, "y": {"datum": 0.836, "type": "quantitative", "scale": {"domain": [0, 1], "nice": false}, "axis": null}}},
         {"mark": {"type": "text", "text": "NH₃ yield rate", "align": "left", "baseline": "middle", "fontSize": 6, "color": "#a77be0"},
          "encoding": {"x": {"datum": 0.639, "type": "quantitative", "scale": {"domain": [0, 1], "nice": false}, "axis": null}, "y": {"datum": 0.836, "type": "quantitative", "scale": {"domain": [0, 1], "nice": false}, "axis": null}}}
        ]}
      ],
      "resolve": {"scale": {"x": "independent", "y": "independent"}}
     }
   ], "spacing": 22},
   {
    "width": 355, "height": 130,
    "view": {"stroke": "black", "strokeWidth": 1.2},
    "title": {"text": "d", "dx": 3},
    "data": {"values": [{}]},
    "layer": [
     {"data": {"name": "ftir"}, "mark": {"type": "line", "strokeWidth": 1.1},
      "encoding": {
       "x": {"field": "w", "type": "quantitative", "scale": {"domain": [1200, 1700], "reverse": true, "nice": false, "zero": false},
             "axis": {"values": [1200, 1300, 1400, 1500, 1600, 1700], "format": "d", "labelFontSize": 7, "labelFontWeight": "bold", "tickSize": 3, "domain": false, "labelPadding": 1, "labelFlush": false, "title": "Wavenumber (cm⁻¹)", "titleFontSize": 10, "titleFontWeight": "bold", "titlePadding": 2}},
       "y": {"field": "A", "type": "quantitative", "scale": {"domain": [0, 130], "nice": false},
             "axis": {"title": "Absorbance (a.u.)", "labels": false, "ticks": false, "domain": false, "titleFontSize": 10, "titleFontWeight": "bold", "titlePadding": 20}},
       "color": {"field": "V", "type": "nominal", "scale": {"domain": ["OCP", "-0.2V", "-0.3V", "-0.4V", "-0.5V", "-0.6V", "-0.7V", "-0.8V"], "range": ["#111111", "#f25a73", "#f7931e", "#22aa22", "#3fa9f5", "#a05ee0", "#8b0000", "#808000"]}, "legend": null}
      }},
     {"data": {"name": "ftir"}, "transform": [{"filter": "datum.w == 1700"}],
      "mark": {"type": "text", "dy": -5, "fontSize": 7.5, "fontWeight": "bold", "baseline": "middle"},
      "encoding": {"x": {"datum": 1677}, "y": {"field": "A", "type": "quantitative"}, "text": {"field": "V"}, "color": {"field": "V", "type": "nominal", "legend": null}}},
     {"data": {"values": [{"w": 1617}, {"w": 1545}, {"w": 1510}, {"w": 1456}, {"w": 1340}, {"w": 1262}]},
      "mark": {"type": "rule", "strokeDash": [3, 2], "strokeWidth": 1.1, "color": "black"},
      "encoding": {"x": {"field": "w", "type": "quantitative"}, "y": {"datum": 7}, "y2": {"datum": 121}}},
     {"mark": {"type": "rule", "color": "black", "strokeWidth": 1}, "encoding": {"x": {"datum": 1545}, "x2": {"datum": 1540}, "y": {"datum": 121}, "y2": {"datum": 128}}},
     {"mark": {"type": "rule", "color": "black", "strokeWidth": 1}, "encoding": {"x": {"datum": 1510}, "x2": {"datum": 1515}, "y": {"datum": 121}, "y2": {"datum": 128}}},
     {"mark": {"type": "rule", "color": "#444", "strokeWidth": 1.5}, "encoding": {"x": {"datum": 1654}, "y": {"datum": 8}, "y2": {"datum": 127}}},
     {"mark": {"type": "point", "shape": "triangle-down", "filled": true, "size": 25, "color": "#444", "opacity": 1}, "encoding": {"x": {"datum": 1654}, "y": {"datum": 6}}},
     {"data": {"values": [{"w": 1617, "t": "*H₂O"}, {"w": 1528, "t": "*NO"}, {"w": 1456, "t": "*NH₄⁺"}, {"w": 1340, "t": "*NO₃"}, {"w": 1262, "t": "*NH₂"}]},
      "mark": {"type": "text", "fontSize": 7, "baseline": "middle", "color": "black"},
      "encoding": {"x": {"field": "w", "type": "quantitative"}, "y": {"datum": 126.5}, "text": {"field": "t"}}}
    ]
   }
 ], "spacing": -6},
 {"vconcat": [
   {"width": 173, "height": 45, "view": {"stroke": "black", "strokeWidth": 1.2}, "data": {"values": [{}]},
    "layer": [
     {"data": {"name": "ms"}, "transform": [{"filter": "datum.m == 17"}], "mark": {"type": "line", "color": "#f25a73", "strokeWidth": 1.1},
      "encoding": {"x": {"field": "t", "type": "quantitative", "scale": {"domain": [0, 800], "nice": false}, "axis": null}, "y": {"field": "v", "type": "quantitative", "scale": {"domain": [0, 45], "nice": false}, "axis": null}}},
     {"mark": {"type": "text", "text": "I", "font": "Liberation Serif", "fontSize": 11, "color": "#f25a73", "baseline": "middle"}, "encoding": {"x": {"datum": 70, "axis": null}, "y": {"datum": 37, "axis": null}}},
     {"mark": {"type": "text", "text": "2E-9", "align": "left", "baseline": "middle", "fontSize": 8.5, "fontWeight": "bold", "color": "#f25a73"}, "encoding": {"x": {"datum": 80, "axis": null}, "y": {"datum": 37, "axis": null}}},
     {"mark": {"type": "text", "text": "m/z = 17 NH₃", "align": "center", "baseline": "middle", "fontSize": 8.5, "fontWeight": "bold", "color": "#f25a73"}, "encoding": {"x": {"datum": 558, "axis": null}, "y": {"datum": 36, "axis": null}}},
     {"data": {"values": [{"t": 39, "c": "Cycle 1"}, {"t": 237, "c": "Cycle 2"}, {"t": 434, "c": "Cycle 3"}, {"t": 631, "c": "Cycle 4"}]},
      "mark": {"type": "text", "text": "↓", "fontSize": 10, "fontWeight": "bold", "baseline": "middle", "color": "black"},
      "encoding": {"x": {"field": "t", "type": "quantitative", "axis": null}, "y": {"datum": 21.5, "axis": null}}},
     {"data": {"values": [{"t": 39, "c": "Cycle 1"}, {"t": 237, "c": "Cycle 2"}, {"t": 434, "c": "Cycle 3"}, {"t": 631, "c": "Cycle 4"}]},
      "mark": {"type": "text", "fontSize": 6.5, "fontWeight": "bold", "align": "left", "baseline": "middle", "color": "black", "dx": 4},
      "encoding": {"x": {"field": "t", "type": "quantitative", "axis": null}, "y": {"datum": 23, "axis": null}, "text": {"field": "c"}}}
    ]},
   {"width": 173, "height": 45, "view": {"stroke": "black", "strokeWidth": 1.2}, "data": {"values": [{}]},
    "layer": [
     {"data": {"name": "ms"}, "transform": [{"filter": "datum.m == 16"}], "mark": {"type": "line", "color": "#f7931e", "strokeWidth": 1.1},
      "encoding": {"x": {"field": "t", "type": "quantitative", "scale": {"domain": [0, 800], "nice": false}, "axis": null}, "y": {"field": "v", "type": "quantitative", "scale": {"domain": [0, 45], "nice": false}, "axis": null}}},
     {"mark": {"type": "text", "text": "I", "font": "Liberation Serif", "fontSize": 11, "color": "#f7931e", "baseline": "middle"}, "encoding": {"x": {"datum": 70, "axis": null}, "y": {"datum": 35.5, "axis": null}}},
     {"mark": {"type": "text", "text": "1E-9", "align": "left", "baseline": "middle", "fontSize": 8.5, "fontWeight": "bold", "color": "#f7931e"}, "encoding": {"x": {"datum": 80, "axis": null}, "y": {"datum": 35.5, "axis": null}}},
     {"mark": {"type": "text", "text": "m/z = 16 NH₂", "align": "center", "baseline": "middle", "fontSize": 8.5, "fontWeight": "bold", "color": "#f7931e"}, "encoding": {"x": {"datum": 542, "axis": null}, "y": {"datum": 35, "axis": null}}}
    ]},
   {"width": 173, "height": 45, "view": {"stroke": "black", "strokeWidth": 1.2}, "data": {"values": [{}]},
    "layer": [
     {"data": {"name": "ms"}, "transform": [{"filter": "datum.m == 15"}], "mark": {"type": "line", "color": "#1e9e1e", "strokeWidth": 1.1},
      "encoding": {"x": {"field": "t", "type": "quantitative", "scale": {"domain": [0, 800], "nice": false}, "axis": null}, "y": {"field": "v", "type": "quantitative", "scale": {"domain": [0, 45], "nice": false}, "axis": null}}},
     {"mark": {"type": "text", "text": "I", "font": "Liberation Serif", "fontSize": 11, "color": "#1e9e1e", "baseline": "middle"}, "encoding": {"x": {"datum": 70, "axis": null}, "y": {"datum": 37, "axis": null}}},
     {"mark": {"type": "text", "text": "1E-10", "align": "left", "baseline": "middle", "fontSize": 8.5, "fontWeight": "bold", "color": "#1e9e1e"}, "encoding": {"x": {"datum": 80, "axis": null}, "y": {"datum": 37, "axis": null}}},
     {"mark": {"type": "text", "text": "m/z = 15 NH", "align": "center", "baseline": "middle", "fontSize": 8.5, "fontWeight": "bold", "color": "#1e9e1e"}, "encoding": {"x": {"datum": 535, "axis": null}, "y": {"datum": 37, "axis": null}}}
    ]},
   {"width": 173, "height": 45, "view": {"stroke": "black", "strokeWidth": 1.2}, "data": {"values": [{}]},
    "layer": [
     {"data": {"name": "ms"}, "transform": [{"filter": "datum.m == 14"}], "mark": {"type": "line", "color": "#3fa9f5", "strokeWidth": 1.1},
      "encoding": {"x": {"field": "t", "type": "quantitative", "scale": {"domain": [0, 800], "nice": false}, "axis": null}, "y": {"field": "v", "type": "quantitative", "scale": {"domain": [0, 45], "nice": false},
        "axis": {"title": "Intensity (a.u.)", "labels": false, "ticks": false, "domain": false, "titleFontSize": 10, "titleFontWeight": "bold", "titlePadding": 9}}}},
     {"mark": {"type": "text", "text": "I", "font": "Liberation Serif", "fontSize": 11, "color": "#3fa9f5", "baseline": "middle"}, "encoding": {"x": {"datum": 70, "axis": null}, "y": {"datum": 35}}},
     {"mark": {"type": "text", "text": "5E-11", "align": "left", "baseline": "middle", "fontSize": 8.5, "fontWeight": "bold", "color": "#3fa9f5"}, "encoding": {"x": {"datum": 80, "axis": null}, "y": {"datum": 35}}},
     {"mark": {"type": "text", "text": "m/z = 14 N", "align": "center", "baseline": "middle", "fontSize": 8.5, "fontWeight": "bold", "color": "#3fa9f5"}, "encoding": {"x": {"datum": 545, "axis": null}, "y": {"datum": 36}}}
    ]},
   {"width": 173, "height": 45, "view": {"stroke": "black", "strokeWidth": 1.2}, "data": {"values": [{}]},
    "layer": [
     {"data": {"name": "ms"}, "transform": [{"filter": "datum.m == 31"}], "mark": {"type": "line", "color": "#a05ee0", "strokeWidth": 1.1},
      "encoding": {"x": {"field": "t", "type": "quantitative", "scale": {"domain": [0, 800], "nice": false}, "axis": null}, "y": {"field": "v", "type": "quantitative", "scale": {"domain": [0, 45], "nice": false}, "axis": null}}},
     {"mark": {"type": "text", "text": "I", "font": "Liberation Serif", "fontSize": 11, "color": "#a05ee0", "baseline": "middle"}, "encoding": {"x": {"datum": 70, "axis": null}, "y": {"datum": 37.5, "axis": null}}},
     {"mark": {"type": "text", "text": "1E-12", "align": "left", "baseline": "middle", "fontSize": 8.5, "fontWeight": "bold", "color": "#a05ee0"}, "encoding": {"x": {"datum": 80, "axis": null}, "y": {"datum": 37.5, "axis": null}}},
     {"mark": {"type": "text", "text": "m/z = 31 NHO", "align": "center", "baseline": "middle", "fontSize": 8.5, "fontWeight": "bold", "color": "#a05ee0"}, "encoding": {"x": {"datum": 480, "axis": null}, "y": {"datum": 36.5, "axis": null}}}
    ]},
   {"width": 173, "height": 45, "view": {"stroke": "black", "strokeWidth": 1.2}, "data": {"values": [{}]},
    "layer": [
     {"data": {"name": "ms"}, "transform": [{"filter": "datum.m == 30"}], "mark": {"type": "line", "color": "#2171b5", "strokeWidth": 1.1},
      "encoding": {"x": {"field": "t", "type": "quantitative", "scale": {"domain": [0, 800], "nice": false}, "axis": null}, "y": {"field": "v", "type": "quantitative", "scale": {"domain": [0, 45], "nice": false}, "axis": null}}},
     {"mark": {"type": "text", "text": "I", "font": "Liberation Serif", "fontSize": 11, "color": "#2171b5", "baseline": "middle"}, "encoding": {"x": {"datum": 70, "axis": null}, "y": {"datum": 37.5, "axis": null}}},
     {"mark": {"type": "text", "text": "5E-12", "align": "left", "baseline": "middle", "fontSize": 8.5, "fontWeight": "bold", "color": "#2171b5"}, "encoding": {"x": {"datum": 80, "axis": null}, "y": {"datum": 37.5, "axis": null}}},
     {"mark": {"type": "text", "text": "m/z = 30 NO", "align": "center", "baseline": "middle", "fontSize": 8.5, "fontWeight": "bold", "color": "#2171b5"}, "encoding": {"x": {"datum": 503, "axis": null}, "y": {"datum": 36, "axis": null}}}
    ]},
   {"width": 173, "height": 45, "view": {"stroke": "black", "strokeWidth": 1.2}, "data": {"values": [{}]},
    "layer": [
     {"data": {"name": "ms"}, "transform": [{"filter": "datum.m == 46"}], "mark": {"type": "line", "color": "#8b0000", "strokeWidth": 0.9},
      "encoding": {"x": {"field": "t", "type": "quantitative", "scale": {"domain": [0, 800], "nice": false},
        "axis": {"values": [0, 100, 200, 300, 400, 500, 600, 700, 800], "labelExpr": "datum.value % 200 == 0 ? datum.label : ''", "labelFontSize": 5, "labelFontWeight": "bold", "tickSize": 3, "domain": false, "labelPadding": 1, "labelFlush": false, "labelOverlap": false, "title": "Time (s)", "titleFontSize": 11, "titleFontWeight": "bold", "titlePadding": 2}},
       "y": {"field": "v", "type": "quantitative", "scale": {"domain": [0, 45], "nice": false}, "axis": null}}},
     {"mark": {"type": "text", "text": "I", "font": "Liberation Serif", "fontSize": 11, "color": "#8b1a1a", "baseline": "middle"}, "encoding": {"x": {"datum": 70}, "y": {"datum": 37.5, "axis": null}}},
     {"mark": {"type": "text", "text": "1E-13", "align": "left", "baseline": "middle", "fontSize": 8.5, "fontWeight": "bold", "color": "#8b1a1a"}, "encoding": {"x": {"datum": 80}, "y": {"datum": 37.5, "axis": null}}},
     {"mark": {"type": "text", "text": "m/z = 46 NO₂", "align": "center", "baseline": "middle", "fontSize": 8.5, "fontWeight": "bold", "color": "#8b1a1a"}, "encoding": {"x": {"datum": 527}, "y": {"datum": 36, "axis": null}}}
    ]}
  ],
  "spacing": 0,
  "bounds": "flush",
  "title": {"text": "c", "dx": 8}
 }
],
"spacing": 20,
"resolve": {"scale": {"color": "independent"}}
}
